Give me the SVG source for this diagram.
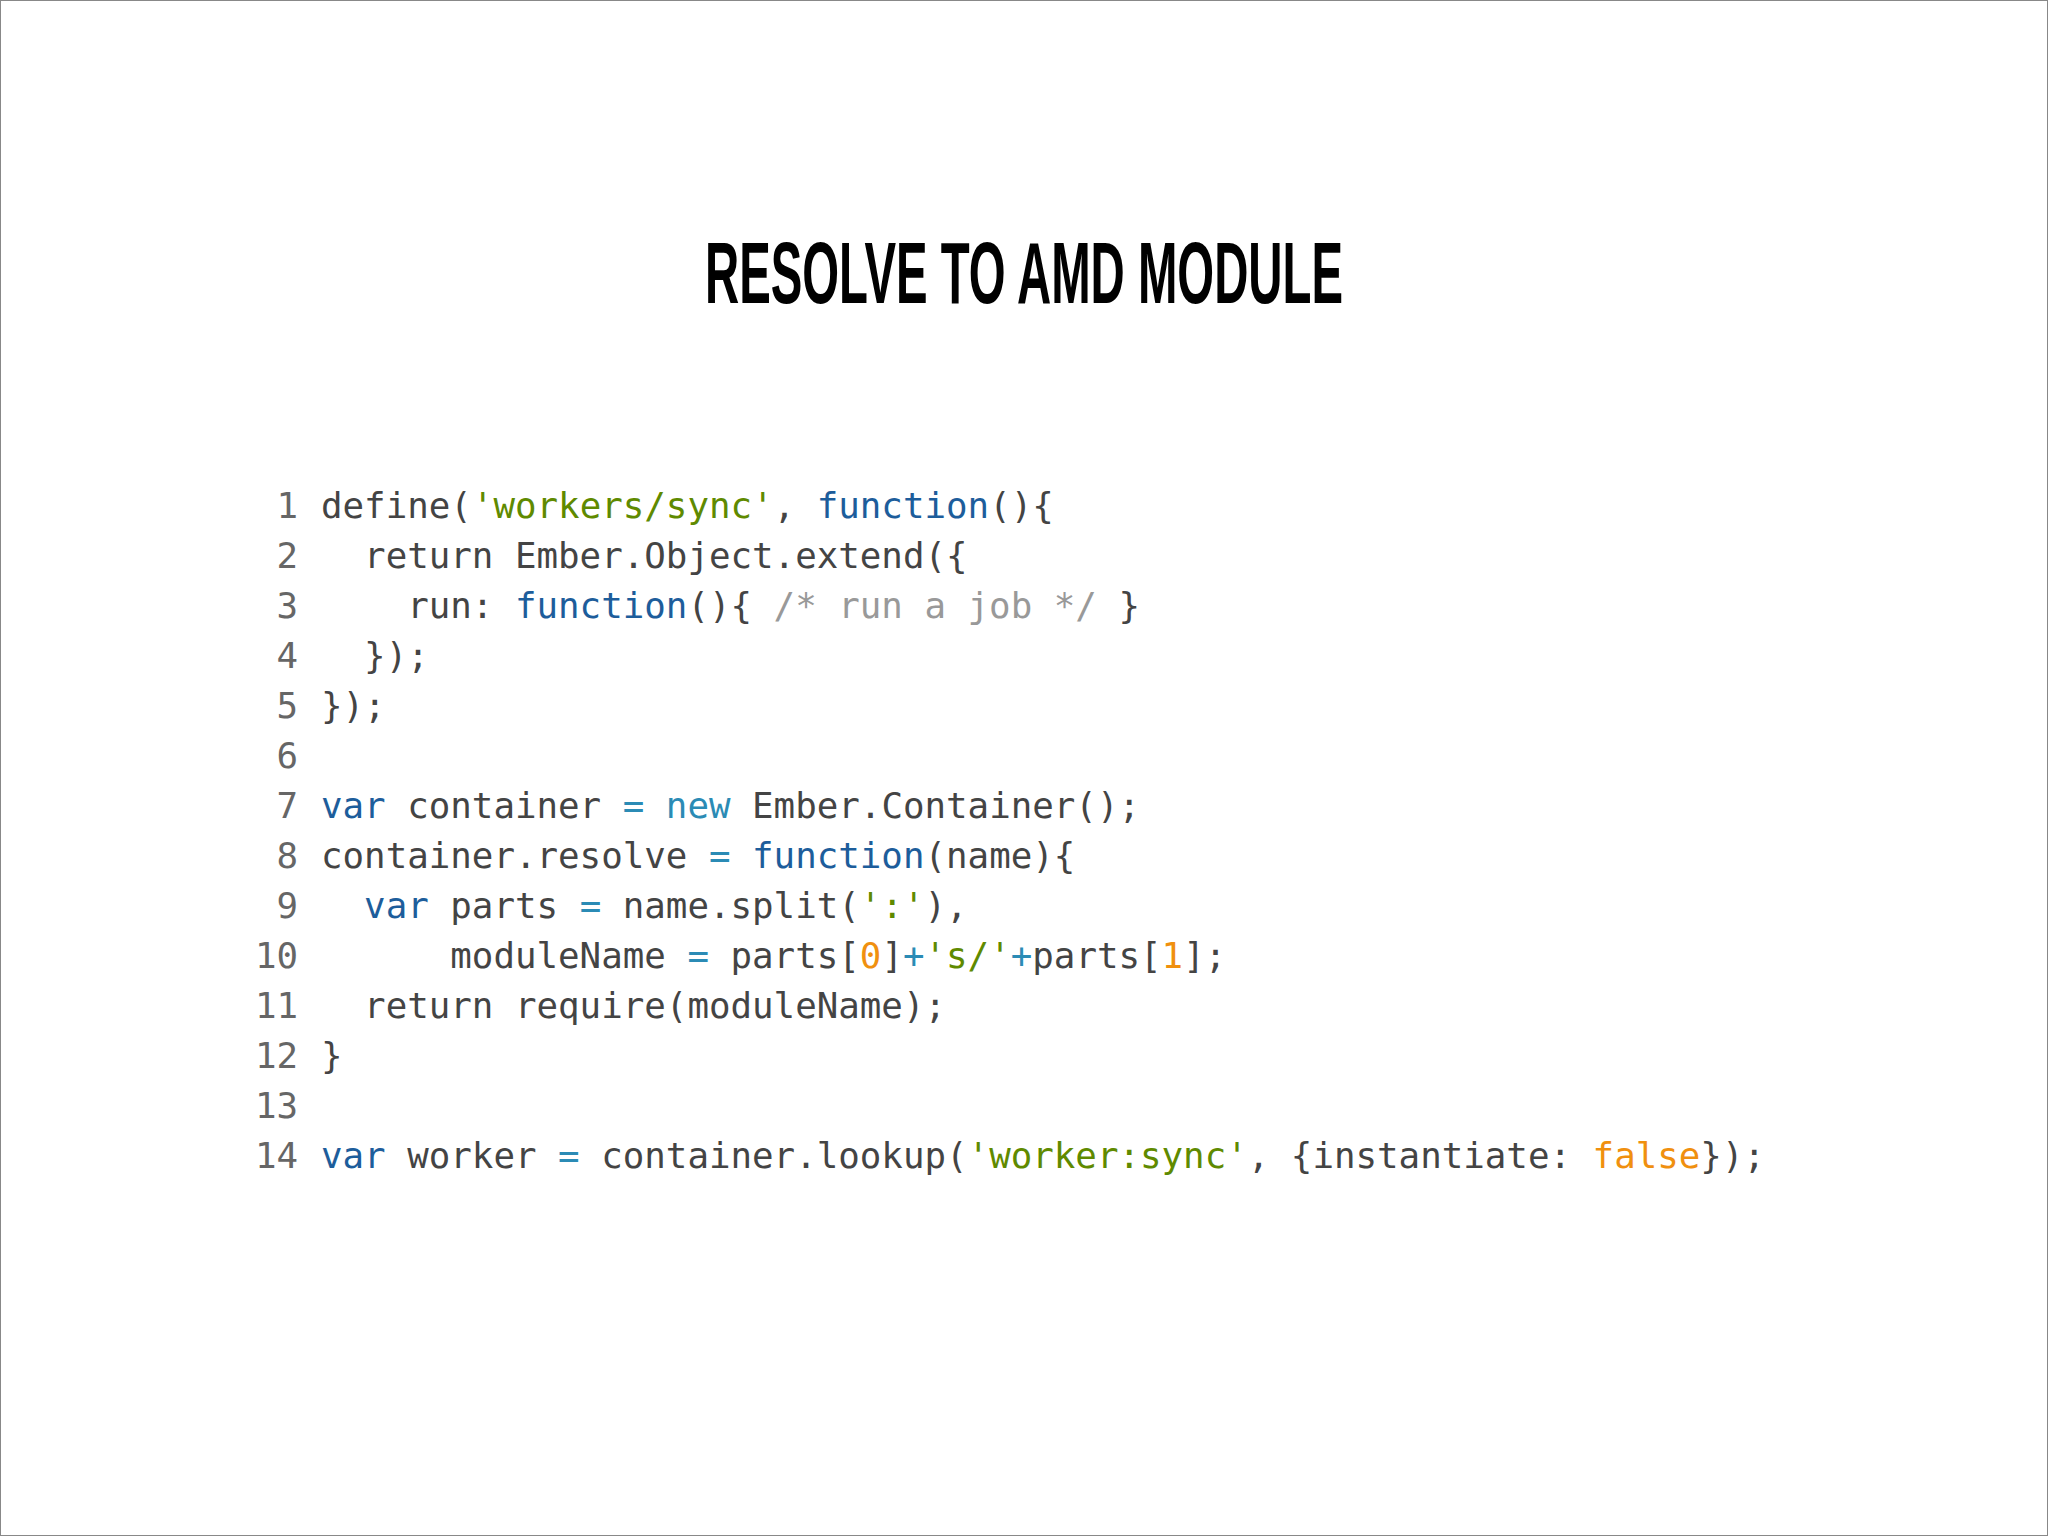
<svg xmlns="http://www.w3.org/2000/svg" width="2048" height="1536" viewBox="0 0 2048 1536">
<style>
.c{font-family:"DejaVu Sans Mono","Liberation Mono",monospace;font-size:35.8px;fill:#444;white-space:pre}
.n{font-family:"DejaVu Sans Mono","Liberation Mono",monospace;font-size:35.8px;fill:#666;text-anchor:end}
.k{fill:#1d5d9b}.o{fill:#2b8bb5}.s{fill:#5f8a00}.m{fill:#f0900f}.g{fill:#999}
</style>
<rect x="0.5" y="0.5" width="2047" height="1535" fill="#fff" stroke="#888"/>
<g id="title"><text x="1024" y="303" text-anchor="middle" font-family="Liberation Sans Narrow,Liberation Sans,sans-serif" font-weight="bold" font-size="88" textLength="638" lengthAdjust="spacingAndGlyphs" fill="#000">RESOLVE TO AMD MODULE</text></g>
<g id="linenums">
<text class="n" x="298" y="518">1</text><text class="n" x="298" y="568">2</text><text class="n" x="298" y="618">3</text><text class="n" x="298" y="668">4</text><text class="n" x="298" y="718">5</text><text class="n" x="298" y="768">6</text><text class="n" x="298" y="818">7</text><text class="n" x="298" y="868">8</text><text class="n" x="298" y="918">9</text><text class="n" x="298" y="968">10</text><text class="n" x="298" y="1018">11</text><text class="n" x="298" y="1068">12</text><text class="n" x="298" y="1118">13</text><text class="n" x="298" y="1168">14</text>
</g>
<g id="code">
<text class="c" xml:space="preserve" x="321" y="518">define(<tspan class="s">'workers/sync'</tspan>, <tspan class="k">function</tspan>(){</text>
<text class="c" xml:space="preserve" x="321" y="568">  return Ember.Object.extend({</text>
<text class="c" xml:space="preserve" x="321" y="618">    run: <tspan class="k">function</tspan>(){ <tspan class="g">/* run a job */</tspan> }</text>
<text class="c" xml:space="preserve" x="321" y="668">  });</text>
<text class="c" xml:space="preserve" x="321" y="718">});</text>
<text class="c" xml:space="preserve" x="321" y="818"><tspan class="k">var</tspan> container <tspan class="o">=</tspan> <tspan class="o">new</tspan> Ember.Container();</text>
<text class="c" xml:space="preserve" x="321" y="868">container.resolve <tspan class="o">=</tspan> <tspan class="k">function</tspan>(name){</text>
<text class="c" xml:space="preserve" x="321" y="918">  <tspan class="k">var</tspan> parts <tspan class="o">=</tspan> name.split(<tspan class="s">':'</tspan>),</text>
<text class="c" xml:space="preserve" x="321" y="968">      moduleName <tspan class="o">=</tspan> parts[<tspan class="m">0</tspan>]<tspan class="o">+</tspan><tspan class="s">'s/'</tspan><tspan class="o">+</tspan>parts[<tspan class="m">1</tspan>];</text>
<text class="c" xml:space="preserve" x="321" y="1018">  return require(moduleName);</text>
<text class="c" xml:space="preserve" x="321" y="1068">}</text>
<text class="c" xml:space="preserve" x="321" y="1168"><tspan class="k">var</tspan> worker <tspan class="o">=</tspan> container.lookup(<tspan class="s">'worker:sync'</tspan>, {instantiate: <tspan class="m">false</tspan>});</text>
</g>
</svg>
